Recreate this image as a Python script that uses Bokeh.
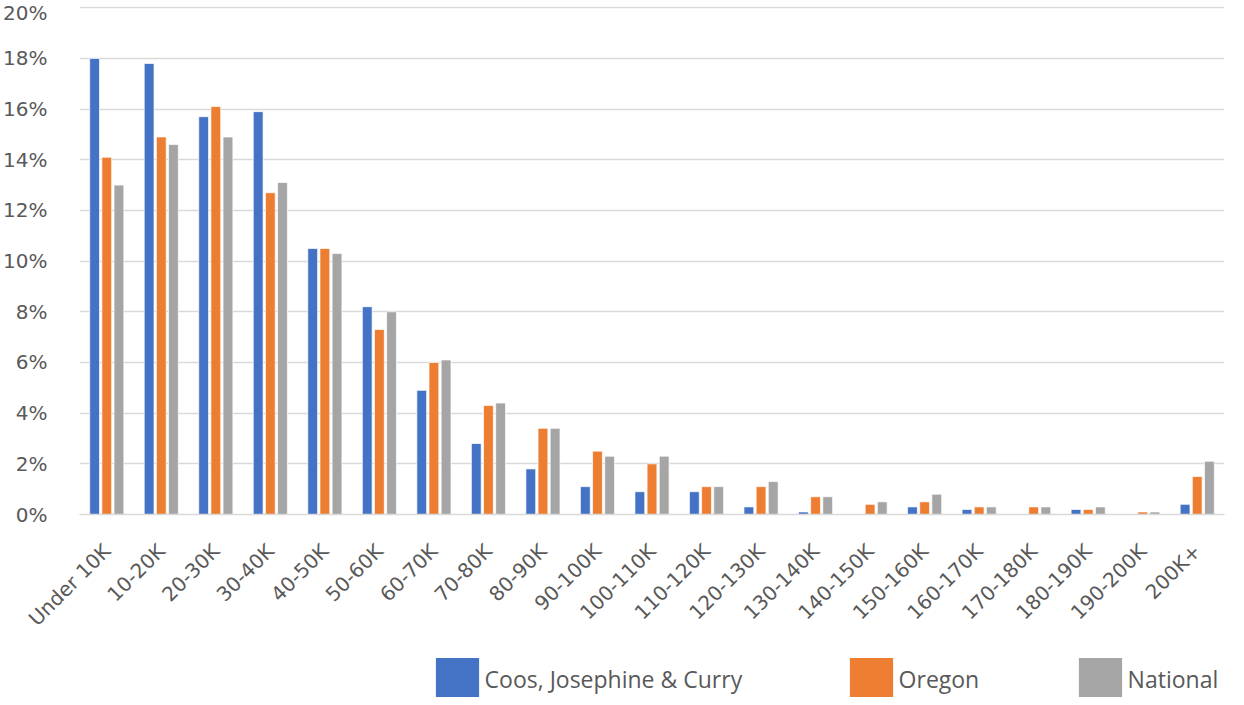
import math
from bokeh.plotting import figure
from bokeh.layouts import column
from bokeh.models import ColumnDataSource, FixedTicker, PrintfTickFormatter, Legend, LegendItem
from bokeh.transform import dodge
from bokeh.embed import file_html
from bokeh.resources import INLINE

categories = ["Under 10K", "10-20K", "20-30K", "30-40K", "40-50K", "50-60K", "60-70K",
              "70-80K", "80-90K", "90-100K", "100-110K", "110-120K", "120-130K",
              "130-140K", "140-150K", "150-160K", "160-170K", "170-180K", "180-190K",
              "190-200K", "200K+"]
coos = [18.0, 17.8, 15.7, 15.9, 10.5, 8.2, 4.9, 2.8, 1.8, 1.1, 0.9, 0.9, 0.3, 0.1, 0.0,
        0.3, 0.2, 0.0, 0.2, 0.0, 0.4]
oregon = [14.1, 14.9, 16.1, 12.7, 10.5, 7.3, 6.0, 4.3, 3.4, 2.5, 2.0, 1.1, 1.1, 0.7, 0.4,
          0.5, 0.3, 0.3, 0.2, 0.1, 1.5]
national = [13.0, 14.6, 14.9, 13.1, 10.3, 8.0, 6.1, 4.4, 3.4, 2.3, 2.3, 1.1, 1.3, 0.7, 0.5,
            0.8, 0.3, 0.3, 0.3, 0.1, 2.1]
series_names = ["Coos, Josephine & Curry", "Oregon", "National"]
colors = ["#4472C4", "#ED7D31", "#A5A5A5"]
y_ticks = list(range(0, 21, 2))

FONT = "DejaVu Sans"
TXT = "#595959"

src = ColumnDataSource(dict(cat=categories, coos=coos, oregon=oregon, national=national))

p = figure(x_range=categories, y_range=(0, 20.05), width=1228, height=650,
           output_backend="svg", toolbar_location=None,
           min_border_left=72, min_border_right=4, min_border_top=6, min_border_bottom=136)

fields = ["coos", "oregon", "national"]
for field, off, col in zip(fields, [-0.223, 0.0, 0.223], colors):
    p.vbar(x=dodge("cat", off, range=p.x_range), top=field, width=0.18, source=src,
           fill_color=col, line_color="white", line_width=0.7)

p.outline_line_color = None
p.xgrid.grid_line_color = None
p.ygrid.grid_line_color = "#d9d9d9"
p.ygrid.grid_line_width = 1.3
p.x_range.range_padding = 0
p.yaxis.ticker = FixedTicker(ticks=y_ticks)
p.yaxis.formatter = PrintfTickFormatter(format="%d%%")
p.yaxis.axis_line_color = None
p.yaxis.major_tick_line_color = None
p.yaxis.minor_tick_line_color = None
p.xaxis.axis_line_color = "#d9d9d9"
p.xaxis.axis_line_width = 1.5
p.xaxis.major_tick_line_color = None
p.xaxis.major_label_orientation = math.pi / 4
for ax in (p.xaxis, p.yaxis):
    ax.major_label_text_font = FONT
    ax.major_label_text_font_size = "20px"
    ax.major_label_text_color = TXT
p.yaxis.major_label_standoff = 26
p.xaxis.major_label_standoff = 27

# legend strip below the chart (its bars sit below the visible y range; only the legend shows)
lf = figure(width=1228, height=47, x_range=categories, y_range=(50, 51),
            output_backend="svg", toolbar_location=None,
            min_border_left=72, min_border_right=0, min_border_top=0, min_border_bottom=0)
lf.axis.visible = False
lf.grid.visible = False
lf.outline_line_color = None
legend_x = [350.6, 764.6, 993.6]
for name, field, col, lx in zip(series_names, fields, colors, legend_x):
    r = lf.vbar(x="cat", top=field, width=0.18, source=src, fill_color=col, line_color=None)
    lg = Legend(items=[LegendItem(label=name, renderers=[r])],
                location=(lx, -8.6), orientation="horizontal",
                glyph_width=54, glyph_height=54, label_standoff=1,
                label_text_font="Open Sans", label_text_font_size="23px",
                label_text_color=TXT, border_line_color=None,
                background_fill_alpha=0, padding=0, margin=0)
    lf.add_layout(lg, "center")

layout = column(p, lf, spacing=0)
open("out.html", "w").write(file_html(layout, INLINE))
